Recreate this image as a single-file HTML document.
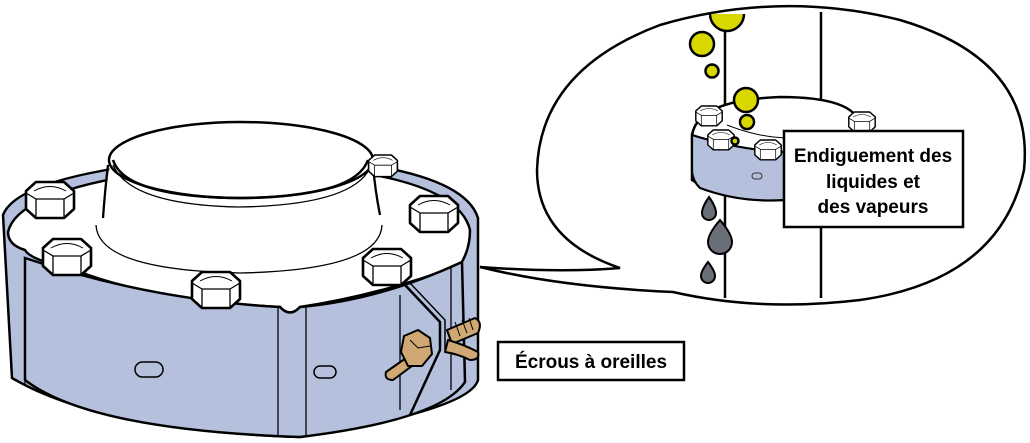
<!DOCTYPE html>
<html><head><meta charset="utf-8"><style>
html,body{margin:0;padding:0;background:#fff;}
svg{display:block;}
text{font-family:"Liberation Sans Narrow","Liberation Sans",sans-serif;font-weight:bold;fill:#000;}
</style></head><body>
<svg width="1030" height="443" viewBox="0 0 1030 443" xmlns="http://www.w3.org/2000/svg">
<defs>
<g id="bolt" stroke="#000" fill="#fff" stroke-linejoin="round">
<polygon points="-24,9 -14,0 14,0 24,9 24,27 14,36 -14,36 -24,27" stroke-width="2.6"/>
<polyline points="-24,11 -14,17 14,17 24,11" fill="none" stroke-width="1.3"/>
<line x1="-14" y1="17" x2="-14" y2="36" stroke-width="1.3"/>
<line x1="14" y1="17" x2="14" y2="36" stroke-width="1.3"/>
<path d="M-16,9 Q0,0 16,9" fill="none" stroke-width="1"/>
</g>
</defs>

<!-- speech bubble -->
<path d="M620,268 Q560,273 480,267 Q560,287 673,292 Q760,312 860,300 Q1000,280 1024,170 Q1035,60 900,20 Q780,-10 660,25 Q540,70 537,170 Q537,240 620,268 Z" fill="#fff" stroke="#000" stroke-width="2.5"/>

<line x1="725" y1="20" x2="725" y2="298" stroke="#000" stroke-width="2.5"/>
<line x1="821" y1="12" x2="821" y2="120" stroke="#000" stroke-width="2.5"/>
<line x1="821" y1="226" x2="821" y2="298" stroke="#000" stroke-width="2.5"/>
<!-- small flange -->
<path d="M692,135 Q698,100 780,97 Q855,97 860,125 L860,160 L784,200 Q720,200 692,180 Z" fill="#fff" stroke="#000" stroke-width="2.5"/>
<path d="M692,135 Q740,150 784,152 L784,200 Q740,203 700,188 Q692,180 692,170 Z" fill="#b4c0dc" stroke="#000" stroke-width="2.2"/>
<path d="M727,125 Q760,138 790,138" fill="none" stroke="#000" stroke-width="1"/>
<rect x="752" y="173" width="10" height="6" rx="3" fill="none" stroke="#333" stroke-width="1"/>
<g transform="translate(709,106) scale(0.55)"><use href="#bolt"/></g>
<g transform="translate(721,130) scale(0.55)"><use href="#bolt"/></g>
<g transform="translate(768,140) scale(0.55)"><use href="#bolt"/></g>
<g transform="translate(862,112) scale(0.55)"><use href="#bolt"/></g>
<g fill="#d8d800" stroke="#000" stroke-width="2.5">
<path d="M710,14 A17,17 0 0 0 744,14" />
<circle cx="702" cy="44" r="12"/>
<circle cx="712" cy="71" r="6.5"/>
<circle cx="746" cy="100" r="12"/>
<circle cx="747" cy="122" r="7"/>
<circle cx="735" cy="141" r="3.5"/>
</g>
<g fill="#6a6e76" stroke="#000" stroke-width="2">
<path d="M709,197 Q716,207 716,213 A7,7 0 0 1 702,213 Q702,207 709,197 Z"/>
<path d="M720,220 Q732,234 732,242 A12,12 0 0 1 708,242 Q708,234 720,220 Z"/>
<path d="M708,262 Q715,271 715,276 A7,7 0 0 1 701,276 Q701,271 708,262 Z"/>
</g>
<rect x="784" y="131" width="179" height="96" fill="#fff" stroke="#000" stroke-width="2.5"/>
<text x="873" y="162" font-size="19" text-anchor="middle">Endiguement des</text>
<text x="873" y="188" font-size="19" text-anchor="middle">liquides et</text>
<text x="873" y="213" font-size="19" text-anchor="middle">des vapeurs</text>

<!-- main flange -->
<path d="M3,215 Q20,170 240,155 Q460,160 478,218 L478,380 Q470,410 300,437 Q100,430 12,378 Z" fill="#b4c0dc" stroke="#000" stroke-width="2.5"/>
<path d="M8,232 Q20,180 240,163 Q455,168 470,230 Q470,250 460,265 Q380,295 300,307 Q290,318 280,307 Q150,300 75,270 Q30,260 25,250 Q8,245 8,232 Z" fill="#fff" stroke="#000" stroke-width="2.5"/>
<path d="M25,258 Q150,300 280,307 Q290,318 300,307 Q380,300 462,262 L465,382 Q440,420 300,437 Q90,430 25,380 Z" fill="#b4c0dc" stroke="#000" stroke-width="2.5"/>
<g stroke="#000" stroke-width="1.3">
<line x1="25" y1="258" x2="25" y2="385"/>
<line x1="278" y1="307" x2="278" y2="435"/>
<line x1="306" y1="307" x2="306" y2="435"/>
<line x1="400" y1="295" x2="400" y2="410"/>
<line x1="451" y1="268" x2="451" y2="390"/>
</g>
<rect x="135" y="362" width="28" height="15" rx="7.5" fill="none" stroke="#000" stroke-width="1.5"/>
<rect x="314" y="366" width="22" height="12" rx="6" fill="none" stroke="#000" stroke-width="1.5"/>
<path d="M405,285 L440,322 L440,350 L410,415" fill="none" stroke="#000" stroke-width="2.5"/>
<path d="M410,283 L445,320 L445,350" fill="none" stroke="#000" stroke-width="1.5"/>
<!-- hub -->
<path d="M110,165 Q105,200 98,218 Q95,235 100,250 Q160,275 240,275 Q330,275 382,250 Q385,235 380,215 Q372,195 372,165 Z" fill="#fff" stroke="none"/>
<path d="M103,218 Q105,190 108,165" fill="none" stroke="#000" stroke-width="2.3"/>
<path d="M380,215 Q375,190 373,165" fill="none" stroke="#000" stroke-width="2.3"/>
<path d="M96,225 Q98,270 240,273 Q380,270 382,225" fill="none" stroke="#000" stroke-width="1.3"/>
<ellipse cx="241" cy="160" rx="132" ry="38" fill="#fff" stroke="#000" stroke-width="2.5"/>
<path d="M113,165 Q130,205 240,207 Q352,205 370,168" fill="none" stroke="#000" stroke-width="1.3"/>
<path d="M113,160 Q125,197 240,198 Q355,197 368,160" fill="none" stroke="#000" stroke-width="2.5"/>
<use href="#bolt" transform="translate(50,182)"/>
<use href="#bolt" transform="translate(67,239)"/>
<use href="#bolt" transform="translate(216,272)"/>
<use href="#bolt" transform="translate(387,249)"/>
<use href="#bolt" transform="translate(434,196)"/>
<g transform="translate(383,155) scale(0.6)"><use href="#bolt"/></g>
<!-- wing nut -->
<g fill="#d0a874" stroke="#000" stroke-width="2" stroke-linejoin="round">
<path d="M447,330 L475,318 Q483,322 478,333 L452,344 Z"/>
<path d="M448,340 Q465,345 478,352 Q480,360 470,360 Q458,354 445,352 Z"/>
<path d="M386,372 L406,358 L412,366 L393,380 Q384,380 386,372 Z"/>
<path d="M404,336 L418,330 L430,338 L432,354 L422,366 L408,366 L401,352 Z"/>
</g>
<g stroke="#000" stroke-width="1" fill="none"><path d="M455,322 L460,336 M462,320 L467,333 M469,318 L473,330 M410,340 L418,348 L430,346"/></g>
<rect x="498" y="342" width="186" height="38" fill="#fff" stroke="#000" stroke-width="2.5"/>
<text x="591" y="368" font-size="19" text-anchor="middle">Écrous à oreilles</text>
</svg>
</body></html>
